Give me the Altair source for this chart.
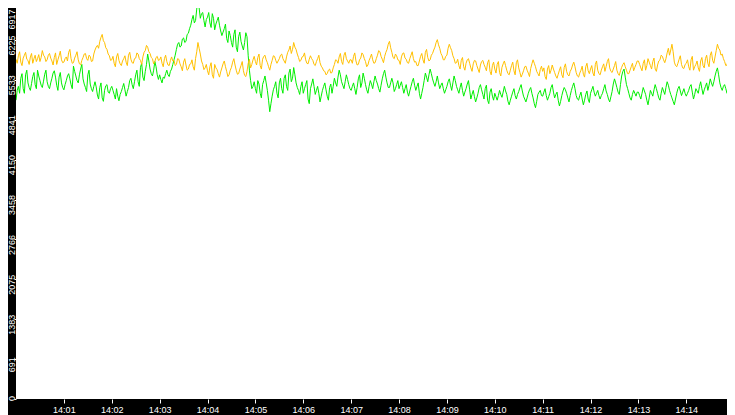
import altair as alt
import pandas as pd

START = "2024-01-01 14:00:00"
STEP = "1500ms"

# values sampled every 1.5 seconds, 14:00:00 .. 14:15:00 (one row per minute)
ORANGE = [
    5890, 5820, 5950, 6020, 5840, 5780, 5910, 5960, 6010, 5890, 5870, 5800, 5930, 5990, 5820, 5900, 5960, 5850, 5900, 5970,
    5850, 5920, 6040, 5960, 5930, 5850, 5880, 5960, 5990, 5910, 5860, 5790, 5920, 6000, 5800, 5880, 5950, 6030, 5880, 5830,
    5840, 5900, 5930, 5860, 6010, 6060, 5900, 5820, 5830, 5910, 5960, 6020, 5880, 5810, 5790, 5870, 5920, 5980, 5990, 5900,
    5870, 5960, 5940, 5850, 5860, 5980, 6050, 6100, 6130, 6080, 6200, 6270, 6320, 6210, 6180, 6090, 6060, 5980, 5950, 5870,
    5880, 5940, 5820, 5760, 5930, 5990, 5870, 5810, 5780, 5860, 5900, 5950, 5840, 5780, 5960, 6010, 5890, 5830, 5820, 5900,
    5910, 6000, 5980, 5900, 5870, 5800, 5930, 6010, 6040, 6130, 6100, 6020, 5990, 5920, 5900, 5810, 5850, 5920, 5940, 5870,
    5880, 5930, 5820, 5760, 5900, 5960, 5850, 5790, 5780, 5870, 5930, 5860, 5870, 5780, 5800, 5900, 5890, 5810, 5760, 5690,
    5840, 5900, 5790, 5700, 5720, 5800, 5810, 5880, 5760, 5700, 5900, 6020, 6180, 6080, 5980, 5860, 5800, 5710, 5740, 5800,
    5690, 5620, 5760, 5830, 5620, 5560, 5800, 5740, 5710, 5640, 5580, 5670, 5740, 5810, 5860, 5760, 5680, 5590, 5620, 5700,
    5750, 5840, 5900, 5790, 5700, 5630, 5640, 5720, 5780, 5850, 5690, 5610, 5590, 5680, 5820, 5890, 5740, 5800, 5880, 5940,
    5850, 5790, 5920, 5980, 5780, 5720, 5890, 5940, 5960, 5880, 5830, 5760, 5700, 5800, 5870, 5950, 5940, 5870, 5820, 5860,
    5900, 5960, 5980, 5900, 5860, 5820, 5930, 6010, 6050, 6120, 5990, 6060, 6180, 6100, 6060, 5980, 5920, 5850, 5870, 5930,
    5940, 6000, 5880, 5820, 5810, 5890, 5950, 5900, 5870, 5800, 5780, 5850, 5900, 5960, 5830, 5770, 5740, 5690, 5680, 5620,
    5640, 5700, 5720, 5650, 5660, 5740, 5800, 5880, 5870, 5820, 5930, 5990, 5850, 5800, 5960, 6010, 5900, 5860, 5820, 5880,
    5880, 5820, 5940, 6000, 5860, 5790, 5800, 5880, 5910, 6000, 5970, 5900, 5850, 5760, 5790, 5870, 5920, 5980, 5880, 5820,
    5830, 5900, 5960, 6040, 6020, 5940, 5890, 5830, 5940, 6010, 6060, 6150, 6200, 6090, 6010, 5920, 5900, 5980, 5950, 5880,
    5870, 5800, 5930, 5990, 6000, 5910, 5890, 5830, 5820, 5900, 5960, 6020, 5900, 5840, 5850, 5780, 5780, 5860, 5940, 5990,
    5880, 5820, 6010, 6060, 5920, 5860, 5880, 5960, 5990, 6050, 6100, 6180, 6230, 6140, 6080, 5990, 5950, 5880, 5880, 5940,
    5960, 6080, 6150, 6090, 6040, 5950, 5900, 5820, 5830, 5890, 5780, 5720, 5870, 5920, 5760, 5700, 5820, 5880, 5900, 5820,
    5740, 5680, 5810, 5870, 5860, 5780, 5720, 5660, 5790, 5850, 5870, 5800, 5750, 5690, 5830, 5880, 5680, 5620, 5780, 5840,
    5720, 5650, 5800, 5850, 5660, 5600, 5750, 5810, 5860, 5780, 5700, 5640, 5620, 5700, 5780, 5840, 5690, 5620, 5830, 5880,
    5740, 5660, 5580, 5630, 5690, 5760, 5770, 5700, 5650, 5590, 5730, 5810, 5880, 5820, 5760, 5680, 5640, 5600, 5710, 5770,
    5680, 5740, 5590, 5540, 5720, 5780, 5640, 5700, 5790, 5720, 5660, 5600, 5560, 5630, 5700, 5760, 5620, 5570, 5750, 5810,
    5680, 5620, 5600, 5680, 5720, 5790, 5840, 5760, 5660, 5600, 5580, 5650, 5700, 5770, 5630, 5580, 5760, 5820, 5690, 5640,
    5720, 5780, 5650, 5600, 5800, 5860, 5700, 5640, 5620, 5700, 5760, 5810, 5680, 5760, 5850, 5900, 5740, 5680, 5660, 5720,
    5780, 5850, 5700, 5640, 5610, 5690, 5750, 5800, 5830, 5760, 5700, 5640, 5640, 5700, 5760, 5820, 5690, 5750, 5800, 5860,
    5860, 5800, 5740, 5690, 5820, 5880, 5700, 5780, 5900, 5840, 5780, 5720, 5850, 5910, 5720, 5680, 5790, 5860, 5880, 5960,
    5940, 5880, 5830, 5900, 6000, 6080, 5960, 6050, 6150, 6020, 5840, 5780, 5760, 5820, 5890, 5950, 5800, 5740, 5730, 5800,
    5820, 5880, 5760, 5700, 5880, 5940, 5700, 5760, 5800, 5860, 5740, 5680, 5860, 5920, 5780, 5740, 5900, 5960, 5820, 5760,
    5960, 6020, 5870, 5820, 5930, 6040, 6150, 6080, 6050, 5960, 5980, 5900, 5850, 5780, 5790, 5880, 5900, 5960, 5830, 5770,
    0,
]

GREEN = [
    5180, 5350, 5420, 5300, 5560, 5640, 5380, 5300, 5620, 5700, 5480, 5400, 5350, 5470, 5590, 5660, 5450, 5380, 5700, 5600,
    5520, 5440, 5400, 5510, 5630, 5700, 5500, 5420, 5380, 5480, 5560, 5650, 5690, 5580, 5440, 5350, 5580, 5660, 5480, 5400,
    5360, 5450, 5520, 5600, 5640, 5550, 5450, 5380, 5770, 5680, 5600, 5520, 5480, 5620, 5720, 5800, 5550, 5460, 5400, 5330,
    5620, 5700, 5460, 5380, 5330, 5420, 5500, 5410, 5270, 5200, 5400, 5480, 5220, 5160, 5350, 5430, 5450, 5320, 5300, 5380,
    5420, 5350, 5280, 5200, 5380, 5250, 5170, 5280, 5330, 5400, 5470, 5360, 5250, 5330, 5400, 5520, 5560, 5450, 5380, 5500,
    5620, 5700, 5500, 5420, 5750, 5820, 5580, 5520, 5680, 5800, 5980, 5860, 5720, 5640, 5600, 5700, 5850, 5760, 5620, 5540,
    5620, 5540, 5480, 5580, 5560, 5640, 5700, 5620, 5590, 5680, 5720, 5800, 5880, 5960, 6060, 6150, 6180, 6100, 6120, 6240,
    6260, 6180, 6200, 6320, 6340, 6420, 6480, 6580, 6650, 6520, 6560, 6760, 6917, 6780, 6600, 6680, 6700, 6560, 6450, 6580,
    6620, 6700, 6520, 6440, 6680, 6600, 6400, 6500, 6560, 6620, 6480, 6380, 6300, 6360, 6420, 6500, 6250, 6180, 6380, 6300,
    6180, 6100, 6320, 6400, 6100, 6020, 6280, 6360, 6200, 6120, 6050, 6180, 6350, 6280, 5950, 5700, 5520, 5380, 5420, 5500,
    5380, 5300, 5520, 5460, 5300, 5220, 5450, 5520, 5600, 5480, 5350, 5180, 4980, 5120, 5250, 5360, 5420, 5500, 5300, 5220,
    5480, 5560, 5380, 5300, 5560, 5620, 5420, 5350, 5650, 5720, 5500, 5560, 5746, 5620, 5480, 5400, 5350, 5280, 5420, 5500,
    5300, 5380, 5450, 5520, 5200, 5120, 5380, 5460, 5550, 5420, 5280, 5350, 5420, 5300, 5150, 5250, 5350, 5420, 5480, 5360,
    5250, 5180, 5400, 5460, 5300, 5420, 5560, 5480, 5420, 5580, 5700, 5620, 5500, 5440, 5380, 5500, 5620, 5540, 5450, 5380,
    5350, 5420, 5480, 5380, 5280, 5400, 5550, 5620, 5400, 5480, 5650, 5560, 5450, 5360, 5300, 5420, 5520, 5460, 5380, 5500,
    5600, 5520, 5460, 5380, 5320, 5440, 5550, 5640, 5700, 5580, 5480, 5400, 5400, 5480, 5560, 5480, 5330, 5380, 5450, 5520,
    5380, 5440, 5500, 5400, 5300, 5380, 5450, 5320, 5250, 5340, 5420, 5500, 5560, 5440, 5350, 5420, 5480, 5300, 5200, 5300,
    5400, 5520, 5650, 5580, 5500, 5620, 5720, 5640, 5550, 5480, 5420, 5500, 5600, 5480, 5380, 5440, 5480, 5380, 5300, 5360,
    5420, 5500, 5550, 5440, 5350, 5480, 5600, 5520, 5420, 5360, 5300, 5400, 5480, 5350, 5250, 5320, 5380, 5460, 5520, 5360,
    5200, 5280, 5350, 5240, 5150, 5220, 5300, 5400, 5450, 5360, 5280, 5200, 5380, 5440, 5180, 5120, 5320, 5380, 5250, 5180,
    5300, 5240, 5180, 5260, 5350, 5280, 5230, 5320, 5420, 5340, 5280, 5160, 5100, 5180, 5250, 5320, 5380, 5260, 5200, 5280,
    5330, 5400, 5450, 5340, 5250, 5200, 5150, 5220, 5300, 5360, 5400, 5300, 5220, 5120, 5050, 5160, 5280, 5320, 5350, 5260,
    5250, 5320, 5380, 5260, 5180, 5240, 5300, 5400, 5450, 5320, 5220, 5280, 5320, 5180, 5080, 5160, 5260, 5340, 5400, 5360,
    5300, 5220, 5150, 5260, 5350, 5420, 5480, 5380, 5260, 5200, 5180, 5260, 5320, 5200, 5100, 5180, 5280, 5340, 5200, 5140,
    5300, 5360, 5420, 5320, 5250, 5300, 5350, 5260, 5200, 5260, 5300, 5380, 5450, 5340, 5280, 5200, 5150, 5240, 5330, 5460,
    5550, 5480, 5400, 5320, 5280, 5450, 5600, 5680, 5720, 5580, 5450, 5380, 5300, 5220, 5180, 5280, 5350, 5300, 5250, 5320,
    5320, 5260, 5200, 5300, 5400, 5340, 5280, 5180, 5100, 5220, 5350, 5300, 5250, 5360, 5450, 5380, 5300, 5220, 5180, 5300,
    5400, 5340, 5280, 5400, 5500, 5440, 5350, 5280, 5220, 5160, 5100, 5200, 5300, 5380, 5420, 5340, 5260, 5320, 5380, 5300,
    5250, 5300, 5350, 5420, 5450, 5320, 5200, 5280, 5380, 5340, 5300, 5420, 5500, 5380, 5280, 5360, 5420, 5480, 5350, 5440,
    5550, 5480, 5420, 5500, 5600, 5680, 5740, 5620, 5480, 5400, 5350, 5420, 5450, 5380, 5300, 5360, 5400, 5460, 5320, 5280,
    2680,
]

Y_TICKS = [0, 691, 1383, 2075, 2766, 3458, 4150, 4841, 5533, 6225, 6917]
X_TICK_MINUTES = [1, 2, 3, 4, 5, 6, 7, 8, 9, 10, 11, 12, 13, 14]

GREEN_COLOR = "#00ee00"
ORANGE_COLOR = "#ffc000"
FONT = "Liberation Sans"

df_green = pd.DataFrame({"t": pd.date_range(START, periods=len(GREEN), freq=STEP), "v": GREEN})
df_orange = pd.DataFrame({"t": pd.date_range(START, periods=len(ORANGE), freq=STEP), "v": ORANGE})

PLOT_W = 711
PLOT_H = 391
y_max = Y_TICKS[-1] * PLOT_H / 399.0


def dt(m, s=0):
    return alt.DateTime(year=2024, month=1, date=1, hours=14, minutes=m, seconds=s)


x_enc = alt.X(
    "t:T",
    scale=alt.Scale(domain=[dt(0, 0), dt(14, 51)]),
    axis=alt.Axis(
        values=[dt(m) for m in X_TICK_MINUTES],
        format="%H:%M",
        labelColor="white",
        tickColor="white",
        tickSize=4,
        labelPadding=2,
        labelBaseline="top",
        labelFont=FONT,
        labelFontSize=9,
        labelFlush=False,
        labelOverlap=False,
        domain=False,
        grid=False,
        title=None,
    ),
)

y_axis = alt.Axis(
    values=Y_TICKS[:-1],
    format="d",
    labelAngle=270,
    labelAlign="center",
    labelBaseline="alphabetic",
    labelOffset={"condition": {"test": "datum.value == 0", "value": -1}, "value": 5},
    labelPadding=-0.5,
    tickSize=2,
    tickColor="white",
    labelColor="white",
    labelFont=FONT,
    labelFontSize=9,
    labelFlush=False,
    labelOverlap=False,
    domain=False,
    grid=False,
    title=str(Y_TICKS[-1]),
    titleAngle=270,
    titleAlign="right",
    titleBaseline="alphabetic",
    titleX=-1.5,
    titleY=1,
    titleColor="white",
    titleFont=FONT,
    titleFontSize=9,
    titleFontWeight="normal",
)

y_scale = alt.Scale(domain=[0, y_max], nice=False, zero=True)

green = alt.Chart(df_green).mark_line(color=GREEN_COLOR, strokeWidth=1, clip=True).encode(
    x=x_enc, y=alt.Y("v:Q", scale=y_scale, axis=y_axis)
)
orange = alt.Chart(df_orange).mark_line(color=ORANGE_COLOR, strokeWidth=1, clip=True).encode(
    x=x_enc, y=alt.Y("v:Q", scale=y_scale, axis=y_axis)
)

chart = (
    alt.layer(green, orange)
    .properties(
        width=PLOT_W,
        height=PLOT_H,
        autosize=alt.AutoSizeParams(type="none"),
        padding={"left": 8, "top": 0, "right": 0, "bottom": 16},
        background="black",
    )
    .configure_view(fill="white", strokeWidth=0)
)

chart.save("out.html", embed_options={"renderer": "svg", "actions": False})
